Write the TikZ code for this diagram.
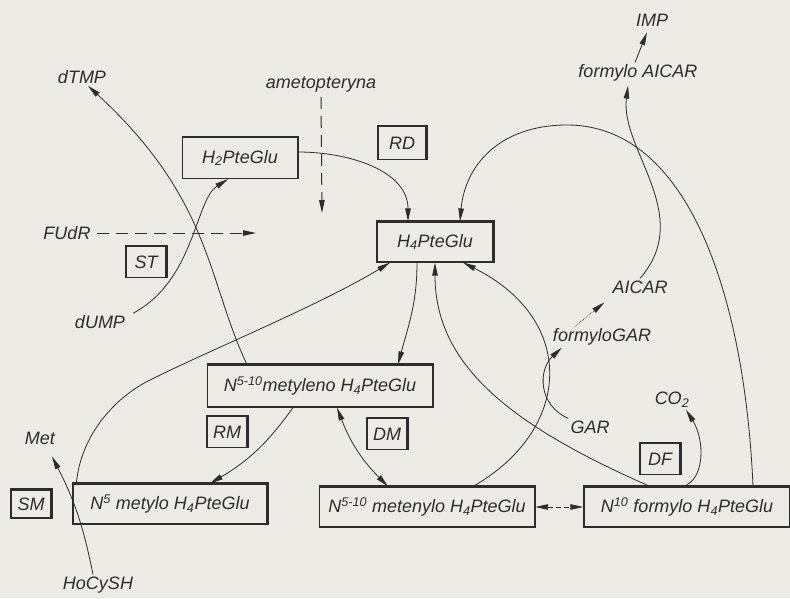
\documentclass[tikz,border=0pt]{standalone}
\usepackage{fontspec}
\setmainfont{Liberation Sans}
\usetikzlibrary{arrows.meta}
\definecolor{paper}{RGB}{237,235,229}
\definecolor{ink}{RGB}{45,45,45}

\begin{document}
\begin{tikzpicture}[
        x=1pt, y=-1pt,
        font=\fontsize{18}{21}\selectfont\itshape,
        >={Triangle[length=13pt,width=5.5pt]},
        box/.style={
            rectangle,
            draw=ink,
            line width=1.2pt,
            inner sep=2pt,
            text=ink
        },
        enzyme/.style={
            box,
            minimum width=40pt,
            minimum height=31pt
        },
        txt/.style={
            inner sep=2pt,
            text=ink
        },
        arrow/.style={
            ->,
            draw=ink,
            line width=0.8pt
        },
        block/.style={
            arrow,
            dash pattern=on 12pt off 7pt,
            line width=1pt
        }
    ]

    \fill[paper] (0,0) rectangle (790,598);
    \useasboundingbox (0,0) rectangle (790,598);

    % Folate forms
    \node[box, minimum width=115, minimum height=41] (h2) at (240,158) {H\textsubscript{2}PteGlu};
    \node[box, minimum width=116, minimum height=40] (h4) at (435,242) {H\textsubscript{4}PteGlu};
    \node[box, minimum width=225, minimum height=42] (metyleno) at (320,386) {N\textsuperscript{5-10}metyleno H\textsubscript{4}PteGlu};
    \node[box, minimum width=194, minimum height=40] (metylo) at (170,504) {N\textsuperscript{5} metylo H\textsubscript{4}PteGlu};
    \node[box, minimum width=215, minimum height=40] (metenylo) at (427,507) {N\textsuperscript{5-10} metenylo H\textsubscript{4}PteGlu};
    \node[box, minimum width=206, minimum height=40] (formylo) at (687,507) {N\textsuperscript{10} formylo H\textsubscript{4}PteGlu};

    % Enzymes
    \node[enzyme, minimum width=48, minimum height=33] (rd) at (402,143) {RD};
    \node[enzyme] (st) at (146,262) {ST};
    \node[enzyme] (rm) at (227,432) {RM};
    \node[enzyme] (dm) at (387,434) {DM};
    \node[enzyme, minimum height=28] (sm) at (31,504) {SM};
    \node[enzyme] (df) at (660,459) {DF};

    % heavier top and right edges
    \foreach \n in {h2,h4,metyleno,metylo,metenylo,formylo,rd,st,rm,dm,sm,df}
        \draw[ink, line width=2.6pt] (\n.north west) -- (\n.north east) -- (\n.south east);

    % Substrates and products
    \node[txt] (dtmp) at (82,77) {dTMP};
    \node[txt] (ametop) at (321,85) {ametopteryna};
    \node[txt] (fudr) at (67,233) {FUdR};
    \node[txt] (dump) at (100,322) {dUMP};
    \node[txt] (met) at (40,438) {Met};
    \node[txt] (hcysh) at (98,585) {HoCySH};
    \node[txt] (imp) at (652,20) {IMP};
    \node[txt] (faicar) at (638,73) {formylo AICAR};
    \node[txt] (aicar) at (640,287) {AICAR};
    \node[txt] (fgar) at (602,337) {formyloGAR};
    \node[txt] (gar) at (590,427) {GAR};
    \node[txt] (co2) at (672,400) {CO\textsubscript{2}};

    \coordinate (fudrend) at (256,233);
    \coordinate (ametopend) at (322,213);

    % Thymidylate cycle
    \draw[arrow] ([xshift=40]metyleno.north west) .. controls (207,280) and (212,200) .. ([xshift=6]dtmp.south);
    \draw[arrow] ([xshift=6]dump.north east) .. controls (195,280) and (195,200) .. ([xshift=-12]h2.south);
    \draw[block] ([xshift=4]fudr.east) -- (fudrend);
    \draw[block] ([yshift=-2]ametop.south) -- (ametopend);
    \draw[arrow] ([yshift=6]h2.east) to[out=0,in=90] ([xshift=-27]h4.north);
    \draw[arrow] ([xshift=-18]h4.south) to[out=-90,in=75] ([xshift=78]metyleno.north);

    % Methyl transfer
    \draw[arrow] ([xshift=-27]metyleno.south) to[bend left=12] ([xshift=40]metylo.north);
    \draw[arrow] ([xshift=4]metylo.north west) .. controls (80,440) and (110,400) .. (150,380)
        .. controls (210,350) and (320,305) .. ([xshift=-45]h4.south);
    \draw[arrow] ([xshift=-5]hcysh.north) to[bend right=8] ([xshift=12,yshift=-10]met.south);

    % Formyl transfers
    \draw[<->, ink, line width=0.8pt] ([xshift=17]metyleno.south) to[bend right=12] ([xshift=-39]metenylo.north);
    \draw[<->, ink, line width=0.8pt, dash pattern=on 5pt off 3pt] (metenylo.east) -- (formylo.west);
    \draw[arrow] ([xshift=46]metenylo.north) .. controls (572,430) and (578,320) .. ([xshift=28]h4.south);
    \draw[arrow] ([xshift=-37]formylo.north) .. controls (510,425) and (435,365) .. (h4.south);
    \draw[arrow] ([xshift=66]formylo.north) .. controls (745,300) and (690,125) .. (567,125)
        .. controls (500,125) and (465,165) .. ([xshift=25]h4.north);
    \draw[arrow] ([xshift=-4]formylo.north) .. controls (705,480) and (705,440) .. ([xshift=14]co2.south);

    % Purine synthesis
    \draw[arrow] (gar.north west) .. controls (538,405) and (538,370) .. ([xshift=11]fgar.south west);
    \draw[arrow, densely dotted, line width=0.6pt] ([xshift=24]fgar.north west) -- ([xshift=-6,yshift=-7]aicar.south west);
    \draw[arrow] (aicar.north) .. controls (695,215) and (620,150) .. ([xshift=-10,yshift=-2]faicar.south);
    \draw[arrow] ([xshift=-3]faicar.north) -- ([xshift=-5,yshift=-4]imp.south);

\end{tikzpicture}
\end{document}
